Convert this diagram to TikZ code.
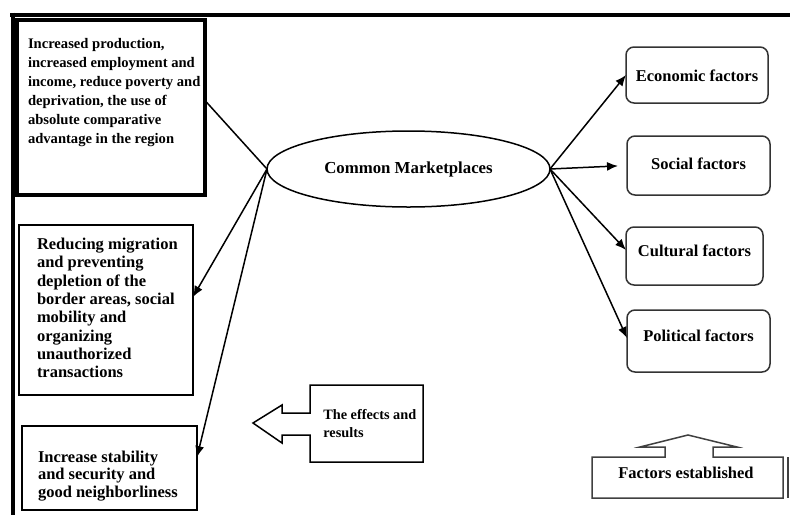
\documentclass[tikz,border=0pt]{standalone}
\usepackage{fontspec}
\setmainfont{Liberation Serif}
\usetikzlibrary{shapes.geometric,arrows.meta}

\begin{document}
\begin{tikzpicture}[x=1pt,y=-1pt,
  every node/.style={outer sep=0pt},
  leftbox/.style={draw,line width=2pt,inner xsep=16pt,inner ysep=10pt},
  factorbox/.style={draw=black!80,line width=1.5pt,rounded corners=8pt,
    text height=12pt,text depth=0pt,font=\bfseries\fontsize{16.5}{18}\selectfont},
  link/.style={line width=1.5pt},
  arrow/.style={line width=1.5pt,-{Latex[length=11pt,width=9pt]}}
]
\useasboundingbox (0,0) rectangle (790,515);

% Frame
\draw[line width=4pt] (10,14.5) -- (790,14.5);
\draw[line width=4pt] (12.5,12.5) -- (12.5,515);

% Centre
\node[ellipse,draw,line width=1.5pt,minimum width=283pt,minimum height=76pt,
  font=\bfseries\fontsize{16.8}{19}\selectfont] (cm) at (408.5,169) {Common Marketplaces};

% Effects (left)
\node[draw,line width=4pt,inner xsep=11pt,inner ysep=15pt,anchor=north west] (b1) at (17,20)
  {\parbox[c][145pt][t]{166pt}{\bfseries\fontsize{14.6}{19}\selectfont
   \begin{tabular}{@{}l@{}}Increased production,\\increased employment and\\income, reduce poverty and\\deprivation, the use of\\absolute comparative\\advantage in the region\end{tabular}}};
\node[leftbox,inner xsep=18pt,anchor=north west] (b2) at (19,225)
  {\parbox[c][150pt][c]{138pt}{\bfseries\fontsize{16.5}{18.3}\selectfont
   \begin{tabular}{@{}l@{}}Reducing migration\\and preventing\\depletion of the\\border areas, social\\mobility and\\organizing\\unauthorized\\transactions\end{tabular}}};
\node[leftbox,inner ysep=8pt,anchor=north west] (b3) at (22,426)
  {\parbox[c][63pt][b]{143pt}{\bfseries\fontsize{16.5}{17.5}\selectfont
   \begin{tabular}[b]{@{}l@{}}Increase stability\\and security and\\good neighborliness\end{tabular}}};

% Factors (right)
\node[factorbox,minimum width=142pt,minimum height=56pt] (eco) at (697,75) {Economic factors};
\node[factorbox,minimum width=143pt,minimum height=59pt,text depth=5pt] (soc) at (698.5,165.5) {Social factors};
\node[factorbox,minimum width=137pt,minimum height=58pt,text depth=12pt] (cul) at (694.5,256) {Cultural factors};
\node[factorbox,minimum width=143pt,minimum height=62pt,text depth=12pt] (pol) at (698.5,341) {Political factors};

% Connectors
\draw[link] (cm.west) -- ([yshift=7pt]b1.east);
\draw[arrow] (cm.west) -- ([yshift=13pt]b2.east);
\draw[arrow] (cm.west) -- ([yshift=11pt]b3.east);
\draw[arrow] (cm.east) -- (eco.west);
\draw[arrow,shorten >=9pt] (cm.east) -- (soc.west);
\draw[arrow] (cm.east) -- ([yshift=6pt]cul.west);
\draw[arrow] (cm.east) -- ([yshift=3pt]pol.west);

% Callout: the effects and results
\draw[line width=1.5pt] (310,385) -- (423,385) -- (423,462) -- (310,462) -- (310,435) -- (282,435)
  -- (282,443) -- (253,423) -- (282,405) -- (282,413) -- (310,413) -- cycle;
\node[anchor=west,align=left,font=\bfseries\fontsize{14.3}{18}\selectfont] (fx) at (320,424)
  {The effects and\\results};

% Callout: factors established
\draw[draw=black!75,line width=1.5pt] (592,457) -- (665,457) -- (665,447) -- (640,447) -- (688,435)
  -- (737,447) -- (713,447) -- (713,457) -- (783,457) -- (783,498) -- (592,498) -- cycle;
\draw[draw=black!75,line width=1.5pt] (788,457) -- (788,498);
\node[font=\bfseries\fontsize{16.5}{18}\selectfont] (fe) at (686,473) {Factors established};

\end{tikzpicture}
\end{document}
